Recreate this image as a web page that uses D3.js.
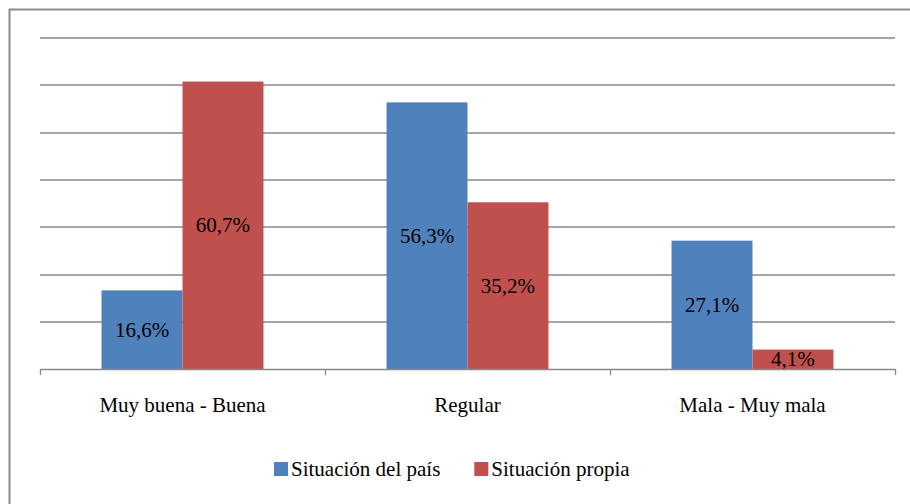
<!DOCTYPE html>
<html>
<head>
<meta charset="utf-8">
<script src="https://cdn.jsdelivr.net/npm/d3@7"></script>
<style>
  body { margin: 0; background: #fff; }
  svg text { font-family: Liberation Serif, Times New Roman, DejaVu Serif, serif; }
</style>
</head>
<body>
<script>
// chart data
const categories = ["Muy buena - Buena", "Regular", "Mala - Muy mala"];
const seriesNames = ["Situación del país", "Situación propia"];
const paisValues = [16.6, 56.3, 27.1];
const propiaValues = [60.7, 35.2, 4.1];
const colors = ["#4F81BD", "#C0504D"];
const yTicks = [0, 10, 20, 30, 40, 50, 60, 70];

const rows = categories.map((c, i) => ({ cat: c, vals: [paisValues[i], propiaValues[i]] }));

const FONT = "Liberation Serif, Times New Roman, DejaVu Serif, serif";

const W = 910, H = 504;
const margin = { top: 37.5, left: 40, right: 15, bottom: 135 };
const width = W - margin.left - margin.right;   // 855
const height = H - margin.top - margin.bottom;  // ~331.5

const svg = d3.select("body").append("svg")
  .attr("width", W)
  .attr("height", H);

// outer frame (runs off the right and bottom edges)
svg.append("rect")
  .attr("x", 9.5).attr("y", 9.5)
  .attr("width", W + 20).attr("height", H + 20)
  .attr("fill", "none")
  .attr("stroke", "#8c8c8c")
  .attr("stroke-width", 2);

const g = svg.append("g").attr("transform", `translate(${margin.left},${margin.top})`);

const x = d3.scaleBand().domain(categories).range([0, width]).paddingInner(0).paddingOuter(0);
const xs = d3.scaleBand().domain([0, 1]).range([0, x.bandwidth()]).paddingOuter(0.76).paddingInner(0);
const y = d3.scaleLinear().domain([0, 70]).range([height, 0]);

// gridlines
g.selectAll(".grid").data(yTicks.slice(1)).join("line")
  .attr("x1", 0).attr("x2", width)
  .attr("y1", d => Math.round(y(d)) + 0.5).attr("y2", d => Math.round(y(d)) + 0.5)
  .attr("stroke", "#888").attr("stroke-width", 1.3);

// bars
const grp = g.selectAll(".cat").data(rows).join("g")
  .attr("transform", d => `translate(${x(d.cat)},0)`);

grp.selectAll("rect").data(d => d.vals.map((v, i) => ({ v, i }))).join("rect")
  .attr("x", d => xs(d.i))
  .attr("width", xs.bandwidth())
  .attr("y", d => y(d.v))
  .attr("height", d => y(0) - y(d.v))
  .attr("fill", d => colors[d.i]);

grp.selectAll("text").data(d => d.vals.map((v, i) => ({ v, i }))).join("text")
  .attr("x", d => xs(d.i) + xs.bandwidth() / 2)
  .attr("y", d => (y(d.v) + y(0)) / 2)
  .attr("text-anchor", "middle")
  .attr("dominant-baseline", "central")
  .attr("font-family", FONT)
  .attr("font-size", 21)
  .attr("fill", "#000")
  .text(d => d.v.toFixed(1).replace(".", ",") + "%");

// x axis
const xAxis = g.append("g")
  .attr("transform", `translate(0,${height})`)
  .attr("font-family", FONT)
  .call(d3.axisBottom(x).tickSize(0).tickPadding(28));
xAxis.attr("font-family", FONT).attr("font-size", 21);
xAxis.select(".domain").attr("stroke", "#888").attr("stroke-width", 1.5);
xAxis.selectAll("text").attr("font-family", FONT).attr("fill", "#000");

// tick marks at band boundaries
const bounds = categories.map(c => x(c)).concat([width]);
g.selectAll(".tk").data(bounds).join("line")
  .attr("x1", d => d + 0.5).attr("x2", d => d + 0.5)
  .attr("y1", height).attr("y2", height + 6)
  .attr("stroke", "#888").attr("stroke-width", 1.3);

// legend
const legend = svg.append("g").attr("transform", "translate(274,462)");
let lx = 0;
seriesNames.forEach((name, i) => {
  const item = legend.append("g").attr("transform", `translate(${lx},0)`);
  item.append("rect").attr("width", 14).attr("height", 14).attr("fill", colors[i]);
  const t = item.append("text").attr("x", 17).attr("y", 14)
    .attr("font-family", FONT)
    .attr("font-size", 21)
    .attr("fill", "#000")
    .text(name);
  lx += 17 + t.node().getComputedTextLength() + 34;
});
</script>
</body>
</html>
